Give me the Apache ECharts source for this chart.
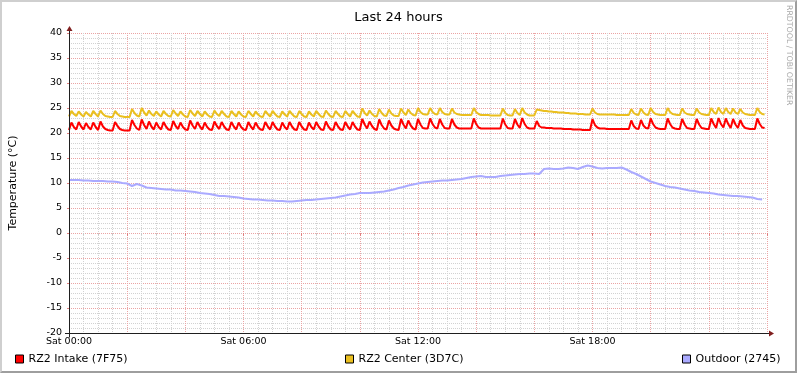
<!DOCTYPE html>
<html>
<head>
<meta charset="utf-8">
<script src="https://cdn.jsdelivr.net/npm/echarts@6/dist/echarts.min.js"></script>
<style>
html,body{margin:0;padding:0;background:#fff;}
#wrap{position:relative;width:797px;height:373px;overflow:hidden;}
#chart{position:absolute;left:0;top:0;width:797px;height:373px;}
#frame{position:absolute;left:0;top:0;width:797px;height:373px;box-sizing:border-box;
  border-top:2px solid #cfcfcf;border-left:2px solid #cfcfcf;border-right:2px solid #9e9e9e;border-bottom:2px solid #9e9e9e;pointer-events:none;}
</style>
</head>
<body>
<div id="wrap"><div id="chart"></div><div id="frame"></div></div>
<script>
// ---- data ----
const titleText = 'Last 24 hours';
const seriesNames = ['RZ2 Intake (7F75)', 'RZ2 Center (3D7C)', 'Outdoor (2745)'];
const seriesColors = ['#ff0000', '#eabf1f', '#aaaaff'];
const xTickLabels = ['Sat 00:00', 'Sat 06:00', 'Sat 12:00', 'Sat 18:00'];
const yAxisTitle = 'Temperature (°C)';
const watermarkText = 'RRDTOOL / TOBI OETIKER';
const xMinMinutes = 0, xMaxMinutes = 1440;
const yMin = -20, yMax = 40;
const roomStepMinutes = 5;      // sample spacing of the two room sensors
const outdoorStepMinutes = 10;  // sample spacing of the outdoor sensor

// RZ2 Intake (one value every 5 minutes, one row per hour)
const intake = [
20.6,22.1,21.2,20.7,22.2,21.3,20.7,22.0,21.2,20.7,22.1,21.2,
20.6,22.3,21.3,20.8,20.6,20.5,20.5,22.2,21.4,20.8,20.6,20.5,
20.5,20.5,22.6,21.6,20.9,20.6,22.7,21.6,20.8,22.3,21.3,20.7,
22.1,21.2,20.7,22.2,21.3,20.7,20.6,22.4,21.4,20.8,22.1,21.2,
20.7,20.6,22.5,21.5,20.8,22.2,21.3,20.7,22.1,21.2,20.7,20.6,
22.3,21.4,20.8,22.2,21.3,20.7,20.6,22.2,21.3,20.7,22.1,21.2,
20.7,20.6,22.2,21.3,20.7,22.1,21.2,20.7,20.6,22.2,21.3,20.7,
22.2,21.3,20.7,20.6,22.1,21.2,20.7,22.2,21.3,20.7,20.6,22.2,
21.3,20.7,20.6,22.1,21.2,20.7,22.2,21.3,20.7,20.6,22.3,21.3,
20.7,20.6,22.2,21.3,20.7,20.6,22.2,21.3,20.7,22.2,21.3,20.7,
20.6,22.8,21.7,20.9,22.3,21.4,20.8,20.6,22.7,21.6,20.9,20.7,
22.5,21.5,20.9,20.7,20.6,22.8,21.7,20.9,22.5,21.5,20.9,20.7,
22.8,21.7,21.0,20.9,20.9,22.9,21.8,21.1,20.9,22.8,21.7,21.0,
20.9,20.9,22.8,21.7,21.1,20.9,20.9,20.9,20.9,20.9,20.9,22.9,
21.8,21.1,20.9,20.9,20.9,20.9,20.9,20.9,20.9,20.9,20.9,22.9,
21.7,21.0,20.9,20.9,22.8,21.7,21.0,23.0,21.8,21.1,20.9,20.9,
20.9,22.4,21.4,21.1,21.1,21.0,21.0,21.0,20.9,20.9,20.9,20.9,
20.8,20.8,20.8,20.8,20.7,20.7,20.7,20.7,20.6,20.6,20.6,20.6,
22.8,21.6,21.1,20.9,20.9,20.9,20.8,20.8,20.8,20.8,20.8,20.8,
20.8,20.8,20.8,20.8,22.5,21.4,20.9,20.8,22.6,21.5,21.0,20.9,
22.9,21.8,21.1,20.9,20.8,20.8,20.8,22.9,21.8,21.1,20.9,20.8,
20.8,22.8,21.7,21.0,20.9,20.8,20.8,22.8,21.7,21.0,20.9,20.8,
20.8,22.9,21.8,21.0,23.0,21.8,21.1,22.9,21.8,21.0,22.8,21.7,
21.0,22.6,21.5,21.0,20.9,20.8,20.8,20.8,22.9,21.8,21.1,21.0
];

// RZ2 Center (one value every 5 minutes, one row per hour)
const center = [
23.3,24.4,23.8,23.4,24.3,23.7,23.3,24.2,23.7,23.3,24.4,23.8,
23.3,24.5,23.8,23.4,23.3,23.2,23.2,24.4,23.8,23.4,23.3,23.2,
23.2,23.2,24.8,24.0,23.5,23.3,25.0,24.1,23.5,24.5,23.8,23.4,
24.3,23.7,23.3,24.4,23.8,23.4,23.3,24.6,23.9,23.4,24.3,23.7,
23.3,23.2,24.6,23.9,23.4,24.4,23.8,23.3,24.3,23.7,23.3,23.2,
24.5,23.8,23.4,24.4,23.8,23.3,23.2,24.4,23.8,23.3,24.3,23.7,
23.3,23.2,24.4,23.8,23.3,24.3,23.7,23.3,23.2,24.4,23.8,23.3,
24.4,23.8,23.3,23.2,24.3,23.7,23.3,24.4,23.8,23.3,23.2,24.4,
23.8,23.3,23.2,24.3,23.7,23.3,24.4,23.8,23.3,23.2,24.5,23.8,
23.3,23.2,24.4,23.8,23.3,23.2,24.4,23.8,23.3,24.4,23.8,23.3,
23.2,24.9,24.0,23.5,24.5,23.8,23.4,23.3,24.8,24.0,23.5,23.4,
24.7,23.9,23.5,23.4,23.4,24.9,24.1,23.6,24.7,24.0,23.6,23.5,
25.0,24.2,23.8,23.7,23.7,25.0,24.2,23.8,23.7,25.0,24.2,23.8,
23.7,23.7,24.9,24.1,23.8,23.7,23.6,23.6,23.6,23.6,23.6,25.0,
24.2,23.8,23.6,23.6,23.6,23.6,23.5,23.5,23.5,23.5,23.5,24.9,
24.0,23.6,23.5,23.5,24.8,24.0,23.6,25.0,24.1,23.7,23.5,23.5,
23.5,24.7,24.6,24.5,24.4,24.4,24.3,24.3,24.2,24.2,24.1,24.1,
24.1,24.0,24.0,23.9,23.9,23.9,23.8,23.8,23.8,23.7,23.7,23.7,
24.9,24.1,23.8,23.7,23.7,23.7,23.7,23.7,23.7,23.7,23.6,23.6,
23.6,23.6,23.6,23.6,24.8,24.0,23.7,23.6,24.9,24.1,23.7,23.6,
25.0,24.2,23.8,23.7,23.6,23.6,23.6,25.0,24.2,23.8,23.7,23.6,
23.6,24.9,24.1,23.8,23.7,23.6,23.6,24.9,24.1,23.8,23.7,23.6,
23.6,25.0,24.2,23.8,25.1,24.2,23.8,25.0,24.2,23.8,24.9,24.1,
23.8,24.8,24.1,23.8,23.7,23.6,23.6,23.6,25.0,24.2,23.8,23.7
];

// Outdoor (one value every 10 minutes, one row per two hours)
const outdoor = [
10.6,10.6,10.6,10.5,10.5,10.4,10.4,10.4,10.3,10.3,10.2,10.0,
9.9,9.4,9.8,9.5,9.1,9.0,8.9,8.8,8.7,8.7,8.5,8.5,
8.4,8.3,8.2,8.0,7.9,7.8,7.6,7.4,7.4,7.3,7.2,7.1,
6.9,6.8,6.7,6.7,6.6,6.5,6.5,6.4,6.4,6.3,6.3,6.4,
6.5,6.6,6.6,6.7,6.8,6.9,7.0,7.1,7.3,7.5,7.7,7.8,
8.0,8.0,8.0,8.1,8.2,8.3,8.5,8.7,9.0,9.2,9.5,9.7,
9.9,10.1,10.2,10.3,10.4,10.5,10.5,10.6,10.7,10.8,11.0,11.2,
11.3,11.4,11.2,11.2,11.2,11.4,11.5,11.6,11.7,11.8,11.8,11.9,
11.9,11.8,12.8,12.9,12.8,12.8,12.9,13.1,13.0,12.8,13.2,13.5,
13.3,13.0,12.9,13.0,13.0,13.0,13.1,12.7,12.2,11.8,11.3,10.8,
10.3,10.0,9.7,9.4,9.2,9.1,8.9,8.7,8.5,8.4,8.2,8.1,
8.0,7.9,7.7,7.6,7.5,7.4,7.4,7.3,7.2,7.1,6.8,6.7
];

// ---- build chart ----
const FONT = '"DejaVu Sans", Verdana, sans-serif';
const MAJOR_GRID = '#eba4a4';
const MINOR_GRID = '#d2d2d2';
const AXIS_COLOR = '#1f1f1f';
const ARROW_COLOR = '#801f1f';

function pairs(values, step) { return values.map((v, i) => [i * step, v]); }

const chart = echarts.init(document.getElementById('chart'), null, {renderer: 'canvas', width: 797, height: 373});

const legendBase = {
  orient: 'horizontal', icon: 'rect', itemWidth: 8, itemHeight: 8, padding: 0, top: 353,
  selectedMode: false,
  itemStyle: {borderColor: '#000', borderWidth: 1},
  textStyle: {fontFamily: FONT, fontSize: 11, color: '#000', lineHeight: 12}
};

const watermark = {
  id: 'wm', type: 'text', x: 789, y: 5, rotation: -Math.PI / 2, z: 100,
  style: {text: watermarkText, fill: '#a9a9a9', font: '7.8px "DejaVu Sans"',
          align: 'left', verticalAlign: 'middle', textAlign: 'left', textVerticalAlign: 'middle'}
};

chart.setOption({
  animation: false,
  backgroundColor: '#ffffff',
  title: {text: titleText, left: 'center', top: 6,
          textStyle: {fontFamily: FONT, fontSize: 13, fontWeight: 'normal', color: '#000'}},
  grid: {left: 67, top: 33, width: 700, height: 300},
  legend: [
    Object.assign({}, legendBase, {left: 15, data: [seriesNames[0]]}),
    Object.assign({}, legendBase, {left: 345, data: [seriesNames[1]]}),
    Object.assign({}, legendBase, {left: 682, data: [seriesNames[2]]})
  ],
  xAxis: {
    type: 'value', min: xMinMinutes, max: xMaxMinutes, interval: 120,
    axisLine: {show: false},
    axisTick: {show: true, length: 3, lineStyle: {color: '#e08080', width: 1}},
    minorTick: {show: true, splitNumber: 4, length: 2, lineStyle: {color: '#c8c8c8', width: 1}},
    axisLabel: {
      show: true, margin: 4, color: '#000', fontFamily: FONT, fontSize: 9.5,
      showMaxLabel: false, showMinLabel: true,
      formatter: v => (v % 360 === 0 && v < xMaxMinutes) ? xTickLabels[v / 360] : ''
    },
    splitLine: {show: true, lineStyle: {color: MAJOR_GRID, width: 1, type: [1, 1]}},
    minorSplitLine: {show: true, lineStyle: {color: MINOR_GRID, width: 1, type: [1, 1]}}
  },
  yAxis: {
    type: 'value', min: yMin, max: yMax, interval: 5,
    name: yAxisTitle, nameLocation: 'middle', nameGap: 50, nameRotate: 90,
    nameTextStyle: {fontFamily: FONT, fontSize: 11, color: '#000'},
    axisLine: {show: false},
    axisTick: {show: true, length: 2, lineStyle: {color: '#e08080', width: 1}},
    minorTick: {show: false, splitNumber: 5},
    axisLabel: {show: true, margin: 7, color: '#000', fontFamily: FONT, fontSize: 9.5},
    splitLine: {show: true, lineStyle: {color: MAJOR_GRID, width: 1, type: [1, 1]}},
    minorSplitLine: {show: true, lineStyle: {color: MINOR_GRID, width: 1, type: [1, 1]}}
  },
  series: [
    {name: seriesNames[0], type: 'line', data: pairs(intake, roomStepMinutes), color: seriesColors[0],
     showSymbol: false, symbol: 'none', smooth: false, lineStyle: {width: 2, color: seriesColors[0]},
     itemStyle: {color: seriesColors[0]}, z: 3},
    {name: seriesNames[1], type: 'line', data: pairs(center, roomStepMinutes), color: seriesColors[1],
     showSymbol: false, symbol: 'none', smooth: false, lineStyle: {width: 2, color: seriesColors[1]},
     itemStyle: {color: seriesColors[1]}, z: 3},
    {name: seriesNames[2], type: 'line', data: pairs(outdoor, outdoorStepMinutes), color: seriesColors[2],
     showSymbol: false, symbol: 'none', smooth: false, lineStyle: {width: 2, color: seriesColors[2]},
     itemStyle: {color: seriesColors[2]}, z: 3}
  ],
  graphic: [watermark]
});

// axis lines with RRDtool-style overshoot and arrows, placed from the chart's own scale
const o = chart.convertToPixel({gridIndex: 0}, [xMinMinutes, yMin]);
const e = chart.convertToPixel({gridIndex: 0}, [xMaxMinutes, yMax]);
const ax = Math.round(o[0]) + 0.5, ay = Math.round(o[1]) + 0.5;
const ex = Math.round(e[0]), ey = Math.round(e[1]);
chart.setOption({
  graphic: [
    watermark,
    {id: 'xline', type: 'line', z: 50, shape: {x1: ax - 4.5, y1: ay, x2: ex + 4, y2: ay},
     style: {stroke: AXIS_COLOR, lineWidth: 1}},
    {id: 'yline', type: 'line', z: 50, shape: {x1: ax, y1: ay + 4, x2: ax, y2: ey - 4},
     style: {stroke: AXIS_COLOR, lineWidth: 1}},
    {id: 'xarrow', type: 'polygon', z: 51, shape: {points: [[ex + 2, ay - 3], [ex + 2, ay + 3], [ex + 7, ay]]},
     style: {fill: ARROW_COLOR}},
    {id: 'yarrow', type: 'polygon', z: 51, shape: {points: [[ax - 3, ey - 2], [ax + 3, ey - 2], [ax, ey - 7]]},
     style: {fill: ARROW_COLOR}}
  ]
});
</script>
</body>
</html>
